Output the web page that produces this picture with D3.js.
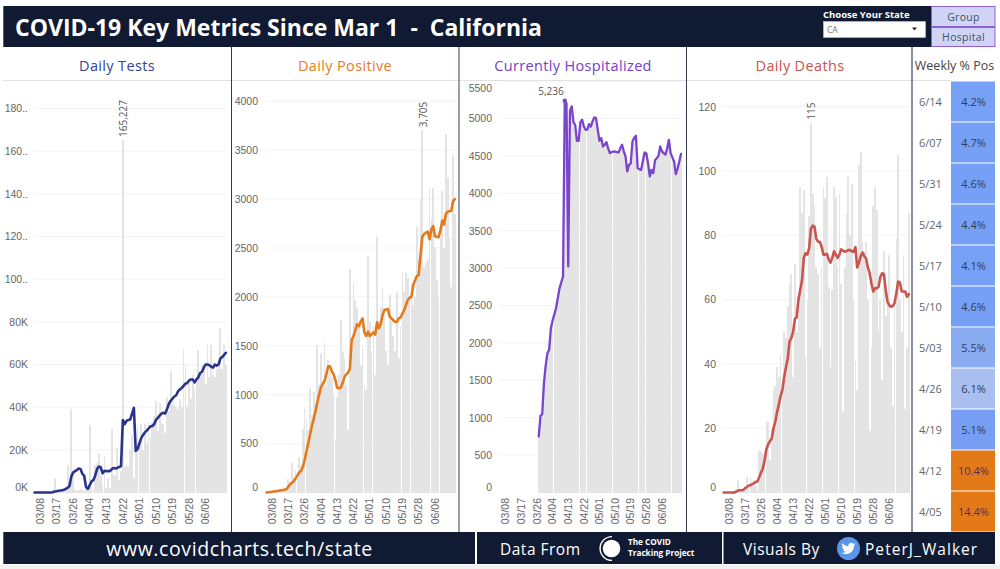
<![CDATA[<!DOCTYPE html>
<html>
<head>
<meta charset="utf-8">
<script src="https://cdn.jsdelivr.net/npm/d3@7"></script>
<style>
  html, body { margin: 0; padding: 0; background: #fff; }
  svg { display: block; font-family: "Open Sans", sans-serif; }
  .tick text { fill: #666; font-size: 10.5px; }
</style>
</head>
<body>
<div id="chart"></div>
<script>
// daily values, 03/05 to 06/17
var days = d3.utcDay.range(new Date(Date.UTC(2020, 2, 5)), new Date(Date.UTC(2020, 5, 18))).map(d3.utcFormat("%m/%d"));
var dateTicks = ["03/08", "03/17", "03/26", "04/04", "04/13", "04/22", "05/01", "05/10", "05/19", "05/28", "06/06"];

var testsBars = [0,0,0,0,0,0,0,0,200,300,300,6600,1000,500,1000,1000,1200,3000,13000,2500,39000,10000,1000,800,1000,1500,1000,600,1500,1800,31600,5000,1000,13000,14000,18000,8000,3000,17000,2000,7000,2000,30000,8000,8000,21000,6000,10000,165227,12000,13000,12000,20000,27000,7000,19000,31000,24000,32000,20000,32000,23000,33000,26000,33000,36000,43000,29000,42000,33000,32000,28000,45000,38000,57000,45000,41000,40000,39000,44000,40000,67500,60000,40000,51000,44000,55000,48000,53000,67000,56000,60000,58000,51000,69000,54000,69000,55000,54000,58000,60000,77000,58000,69000,60000];
var testsAvg = [0,0,0,0,0,0,0,0,0,0,100,500,600,800,900,1100,1300,1700,2200,3000,7500,9400,10000,10500,11200,11000,8800,7800,2600,1700,3500,5200,5800,8000,11000,12200,11800,9000,10200,10000,10000,10000,11000,11500,11300,11500,12000,12300,34000,32000,33600,34000,34200,37000,39700,19500,20300,23000,25500,27000,28200,29000,30000,31000,31200,32000,34000,35000,36000,37000,37400,37000,39000,41500,43000,44000,45000,45600,47500,48300,49000,50000,51000,51300,52500,53000,53000,51600,53000,54000,56000,56600,58500,60000,60000,59700,59000,58500,60000,59500,60000,62800,63500,64500,65500];

var positiveBars = [5,5,10,10,15,15,25,25,30,35,40,55,143,110,303,150,228,210,365,280,645,870,757,640,1064,790,1030,900,1507,1100,1412,1100,1524,1088,1354,1230,1183,1000,552,979,1200,1763,1439,1371,1100,638,2285,1500,2138,1968,1882,1700,1302,1473,1100,1050,2418,1746,1422,1700,1200,2608,1750,1900,2104,1800,1450,1300,2019,1750,1600,1450,2046,1380,1700,2257,2050,2247,2189,1950,2155,1920,2000,2718,2400,2997,3705,2308,2350,2377,3100,2800,3110,2513,2172,2000,2600,3086,2500,3666,3212,2598,2104,3450,2850];
var positiveAvg = [0,3,5,7,10,13,16,20,23,26,30,34,60,85,100,115,145,175,205,220,260,330,420,500,590,680,750,830,920,1000,1074,1110,1140,1210,1290,1290,1240,1210,1150,1070,1064,1074,1120,1180,1210,1225,1268,1560,1600,1660,1720,1700,1750,1780,1640,1600,1644,1600,1620,1637,1615,1740,1680,1720,1810,1865,1870,1875,1800,1780,1760,1745,1745,1780,1790,1830,1865,1920,1968,1990,2002,2120,2170,2213,2225,2430,2615,2643,2655,2667,2590,2690,2725,2620,2615,2610,2680,2780,2740,2850,2870,2875,2880,2980,3000];

var hospitalized = [null,null,null,null,null,null,null,null,null,null,null,null,null,null,null,null,null,null,null,null,null,null,749,1025,1047,1462,1700,1862,1907,2197,2300,2380,2470,2600,2731,2810,2888,5236,5200,3021,5100,5160,4950,4915,4700,4700,4950,4982,4893,4848,4850,4924,4890,4960,5013,5004,4850,4701,4737,4625,4650,4683,4600,4536,4550,4558,4555,4550,4545,4600,4648,4560,4492,4291,4380,4400,4692,4740,4768,4336,4320,4313,4430,4545,4530,4400,4224,4313,4269,4440,4469,4500,4625,4560,4536,4514,4600,4714,4536,4480,4425,4255,4330,4425,4527];

var deathsBars = [0,0,0,0,0,0,0,0,3.8,1,0.5,1,1,4.7,1.5,4.7,2,3.8,2,0.5,12.9,12.9,12,13,22.7,22,10,20,31.8,33,38.9,36,42.7,30,50,48,58,65,68,36,71,50,60,95,87,94,42,60,86,115,93,89,70,68,45,70,95,91.5,98,64,39,63,95,92,70,93,65,25,70,87,98,80,96,60,41,32,102,106,78,75,78,60,19,45,89,95,88,50,60,35,75,55,62,74,45,27,60,79,105,60,50,74,26,45,87];
var deathsAvg = [0,0,0,0,0,0,0,0.3,0.6,0.7,0.7,0.8,1.3,1.7,2.1,2.3,2.6,2.9,3.2,3.5,4.8,6.2,7.5,10,13.5,15,16,16.8,20,22,25,27.5,30,32,36,39,41.7,47,48,50,54,54.5,60,63,66,73,74.4,74,76,82,83,82.7,79,78,78,76.5,74,74,74.2,72.5,71.5,73,75,74,73,74,75.6,75.2,74.9,75.1,75.4,75.4,75,74.9,76.3,70,71.5,73.5,74.6,73.5,72.8,70,68.2,65,62.5,63.5,63.5,64,67,68.2,68,63,59.4,58.2,57.8,58,59,62,65.6,65.3,62.5,62.5,62.5,60.9,61.7];

var weeks = ["6/14", "6/07", "5/31", "5/24", "5/17", "5/10", "5/03", "4/26", "4/19", "4/12", "4/05"];
var weeklyPos = [4.2, 4.7, 4.6, 4.4, 4.1, 4.6, 5.5, 6.1, 5.1, 10.4, 14.4];

var ink = "#101b33";
var baseline = 492.5;

var svg = d3.select("#chart").append("svg").attr("width", 1000).attr("height", 569);

svg.append("rect").attr("x", 0).attr("y", 565).attr("width", 1000).attr("height", 4).attr("fill", "#f1f1f1");

function drawPanel(o) {
  var x = d3.scaleBand().domain(days).range(o.xRange).paddingInner(0.05).paddingOuter(0.02);
  var y = d3.scaleLinear().domain(o.yDomain).range([baseline, o.yTop]);
  var g = svg.append("g");

  // light gridlines
  g.append("g").selectAll("line")
    .data(o.yTicks.filter(function(d) { return d > 0; }))
    .enter().append("line")
    .attr("x1", o.xRange[0]).attr("x2", o.xRange[1])
    .attr("y1", function(d) { return y(d); }).attr("y2", function(d) { return y(d); })
    .attr("stroke", "#f3f3f3");

  // bars are snapped to pixels, that gives the thin white gaps
  g.append("g").attr("shape-rendering", "crispEdges").selectAll("rect")
    .data(o.bars.map(function(v, i) { return {day: days[i], v: v}; }).filter(function(d) { return d.v !== null; }))
    .enter().append("rect")
    .attr("x", function(d) { return x(d.day); })
    .attr("width", x.bandwidth())
    .attr("y", function(d) { return y(d.v); })
    .attr("height", function(d) { return baseline - y(d.v); })
    .attr("fill", "#e4e4e4");

  var line = d3.line()
    .defined(function(d) { return d !== null; })
    .x(function(d, i) { return x(days[i]) + x.bandwidth() / 2; })
    .y(function(d) { return y(d); });

  g.append("path")
    .attr("d", line(o.line))
    .attr("fill", "none")
    .attr("stroke", o.color)
    .attr("stroke-width", o.lineWidth || 2.6)
    .attr("stroke-linejoin", "round")
    .attr("stroke-linecap", "round");

  var yAxis = g.append("g")
    .attr("transform", "translate(" + o.labelRight + ",0)")
    .call(d3.axisLeft(y).tickValues(o.yTicks).tickSize(0).tickPadding(0).tickFormat(o.yFormat || d3.format("d")));
  yAxis.select(".domain").remove();
  // labels at the pane edges are pushed inside
  yAxis.selectAll(".tick text").attr("dy", function(d) {
    if (d === 0) return "-0.2em";
    if (d === 5500) return "1.0em";
    return "0.32em";
  });

  var xAxis = g.append("g")
    .attr("transform", "translate(0," + baseline + ")")
    .call(d3.axisBottom(x).tickValues(dateTicks).tickSize(0).tickPadding(0));
  xAxis.select(".domain").remove();
  xAxis.selectAll(".tick text")
    .attr("transform", "rotate(-90)")
    .attr("text-anchor", "end")
    .attr("x", -5.5)
    .attr("y", 0)
    .attr("dy", "0.35em");

  // peak label
  var px = x(days[o.peakIndex]) + x.bandwidth() / 2;
  if (o.peakRotated) {
    g.append("text")
      .attr("transform", "translate(" + px + "," + (y(o.bars[o.peakIndex]) - 3) + ") rotate(-90)")
      .attr("dy", "0.45em")
      .attr("font-size", 10)
      .attr("fill", "#555")
      .text(o.peakText);
  } else {
    g.append("circle").attr("cx", px).attr("cy", y(o.line[o.peakIndex])).attr("r", 2.2).attr("fill", o.color);
    g.append("text")
      .attr("x", px - 1).attr("y", y(o.line[o.peakIndex]) - 6)
      .attr("text-anchor", "end")
      .attr("font-size", 10)
      .attr("fill", "#555")
      .text(o.peakText);
  }
}

drawPanel({
  xRange: [33.6, 226.8], yDomain: [0, 180000], yTop: 108.5, labelRight: 28,
  yTicks: [0, 20000, 40000, 60000, 80000, 100000, 120000, 140000, 160000, 180000],
  yFormat: function(d) { return d < 100000 ? (d / 1000) + "K" : (d / 1000) + ".."; },
  bars: testsBars, line: testsAvg, color: "#27338f", peakIndex: 48, peakText: "165,227", peakRotated: true
});
drawPanel({
  xRange: [265.7, 455.8], yDomain: [0, 4000], yTop: 101.3, labelRight: 258,
  yTicks: [0, 500, 1000, 1500, 2000, 2500, 3000, 3500, 4000],
  bars: positiveBars, line: positiveAvg, color: "#e47a1a", peakIndex: 86, peakText: "3,705", peakRotated: true
});
drawPanel({
  xRange: [499.7, 681.9], yDomain: [0, 5500], yTop: 81, labelRight: 492,
  yTicks: [0, 500, 1000, 1500, 2000, 2500, 3000, 3500, 4000, 4500, 5000, 5500],
  bars: hospitalized, line: hospitalized, color: "#7a44cc", lineWidth: 2.3, peakIndex: 37, peakText: "5,236", peakRotated: false
});
drawPanel({
  xRange: [722.8, 909.7], yDomain: [0, 120], yTop: 106.7, labelRight: 716,
  yTicks: [0, 20, 40, 60, 80, 100, 120],
  bars: deathsBars, line: deathsAvg, color: "#cb544e", peakIndex: 49, peakText: "115", peakRotated: true
});

// weekly % positive table
var rowY = d3.scaleBand().domain(weeks).range([81, 532]);
var cellColor = d3.scaleLinear().domain([4.1, 5.1, 6.1, 7, 10.4]).range(["#76a1f7", "#769ff3", "#a8bff0", "#e8c8a8", "#e47a17"]).clamp(true);
var rows = svg.append("g").selectAll("g")
  .data(weeks)
  .enter().append("g")
  .attr("transform", function(d) { return "translate(0," + rowY(d) + ")"; });
rows.append("rect")
  .attr("x", 951).attr("y", 0.5)
  .attr("width", 44).attr("height", rowY.bandwidth() - 1)
  .attr("fill", function(d, i) { return cellColor(weeklyPos[i]); });
rows.append("text")
  .attr("x", 919).attr("y", rowY.bandwidth() / 2 + 4)
  .attr("font-size", 11).attr("fill", "#666")
  .text(function(d) { return d; });
rows.append("text")
  .attr("x", 973.5).attr("y", rowY.bandwidth() / 2 + 4)
  .attr("text-anchor", "middle")
  .attr("font-size", 11)
  .attr("fill", function(d, i) { return weeklyPos[i] > 10 ? "#5a2a5a" : "#333c55"; })
  .text(function(d, i) { return weeklyPos[i].toFixed(1) + "%"; });

// rules between the panels
svg.append("line").attr("x1", 3).attr("x2", 951).attr("y1", 80.5).attr("y2", 80.5).attr("stroke", "#e2e2e2").attr("stroke-width", 1);
[[231.5, "#333a4d", 1], [459, "#80869c", 1.6], [686.5, "#333a4d", 1], [912, "#5b6175", 1.4]].forEach(function(r) {
  svg.append("line").attr("x1", r[0]).attr("x2", r[0]).attr("y1", 47).attr("y2", 532).attr("stroke", r[1]).attr("stroke-width", r[2]);
});

// panel titles
[["Daily Tests", 117, "#34439c"], ["Daily Positive", 345, "#e57c1f"], ["Currently Hospitalized", 573, "#7440c8"], ["Daily Deaths", 800, "#c9544b"]].forEach(function(t) {
  svg.append("text").attr("x", t[1]).attr("y", 70.5).attr("text-anchor", "middle")
    .attr("font-size", 14.5).attr("letter-spacing", 0.35).attr("fill", t[2]).text(t[0]);
});
svg.append("text").attr("x", 954.5).attr("y", 69.5).attr("text-anchor", "middle")
  .attr("font-size", 12.5).attr("fill", "#444").text("Weekly % Pos");

// header
svg.append("rect").attr("x", 3.3).attr("y", 6).attr("width", 991.7).attr("height", 41).attr("fill", ink);
svg.append("text").attr("x", 15).attr("y", 35.5).attr("font-size", 23).attr("font-weight", 700).attr("fill", "#fff")
  .style("white-space", "pre")
  .text("COVID-19 Key Metrics Since Mar 1  -  California");

svg.append("text").attr("x", 823).attr("y", 17.5).attr("font-size", 9.5).attr("font-weight", 700).attr("fill", "#fff").text("Choose Your State");
svg.append("rect").attr("x", 823.5).attr("y", 21.5).attr("width", 102).attr("height", 16).attr("fill", "#fff").attr("stroke", "#cfcfcf").attr("stroke-width", 0.5);
svg.append("text").attr("x", 827).attr("y", 33).attr("font-size", 8.5).attr("fill", "#777").text("CA");
svg.append("path").attr("d", "M912 27.5h5l-2.5 3z").attr("fill", "#222");

[["Group", 6, 21], ["Hospital", 27, 20]].forEach(function(b) {
  svg.append("rect").attr("x", 931.5).attr("y", b[1] + 0.5).attr("width", 63.5).attr("height", b[2] - 1)
    .attr("fill", "#d0d4f6").attr("stroke", "#8f5fd6").attr("stroke-width", 1);
  svg.append("text").attr("x", 963.5).attr("y", b[1] + b[2] / 2 + 4).attr("text-anchor", "middle")
    .attr("font-size", 10.5).attr("letter-spacing", 0.3).attr("fill", "#4a4f63").text(b[0]);
});

// footer
[[3.3, 471.7], [477, 245], [723.5, 271.5]].forEach(function(f) {
  svg.append("rect").attr("x", f[0]).attr("y", 532).attr("width", f[1]).attr("height", 32).attr("fill", ink);
});
svg.append("text").attr("x", 239.5).attr("y", 556).attr("text-anchor", "middle").attr("font-size", 19.5)
  .attr("letter-spacing", 0.6).attr("fill", "#fff").text("www.covidcharts.tech/state");
svg.append("text").attr("x", 500).attr("y", 554.5).attr("font-size", 15.5).attr("letter-spacing", 0.5).attr("fill", "#fff").text("Data From");
svg.append("text").attr("x", 743).attr("y", 554.5).attr("font-size", 15.5).attr("letter-spacing", 0.5).attr("fill", "#fff").text("Visuals By");
svg.append("text").attr("x", 865).attr("y", 554.5).attr("font-size", 15.5).attr("letter-spacing", 1.05).attr("fill", "#fff").text("PeterJ_Walker");

// covid tracking project logo
svg.append("circle").attr("cx", 611.5).attr("cy", 548.5).attr("r", 8.8).attr("fill", "#fff");
svg.append("path").attr("d", d3.arc()({innerRadius: 11.2, outerRadius: 12.6, startAngle: Math.PI * 1.0, endAngle: Math.PI * 2.0}))
  .attr("transform", "translate(612,548.5)").attr("fill", "#fff");
svg.append("text").attr("x", 628).attr("y", 545).attr("font-size", 8.2).attr("font-weight", 700).attr("fill", "#fff").text("The COVID");
svg.append("text").attr("x", 628).attr("y", 556.2).attr("font-size", 8.2).attr("font-weight", 700).attr("fill", "#fff").text("Tracking Project");

// twitter badge
svg.append("circle").attr("cx", 848.5).attr("cy", 548.5).attr("r", 11.5).attr("fill", "#5b96ea");
svg.append("path")
  .attr("d", "M23.953 4.57a10 10 0 01-2.825.775 4.958 4.958 0 002.163-2.723c-.951.555-2.005.959-3.127 1.184a4.92 4.92 0 00-8.384 4.482C7.69 8.095 4.067 6.13 1.64 3.162a4.822 4.822 0 00-.666 2.475c0 1.71.87 3.213 2.188 4.096a4.904 4.904 0 01-2.228-.616v.06a4.923 4.923 0 003.946 4.827 4.996 4.996 0 01-2.212.085 4.936 4.936 0 004.604 3.417 9.867 9.867 0 01-6.102 2.105c-.39 0-.779-.023-1.17-.067a13.995 13.995 0 007.557 2.209c9.053 0 13.998-7.496 13.998-13.985 0-.21 0-.42-.015-.63A9.935 9.935 0 0024 4.59z")
  .attr("transform", "translate(841.5,541.5) scale(0.58)")
  .attr("fill", "#fff");
</script>
</body>
</html>
]]>
